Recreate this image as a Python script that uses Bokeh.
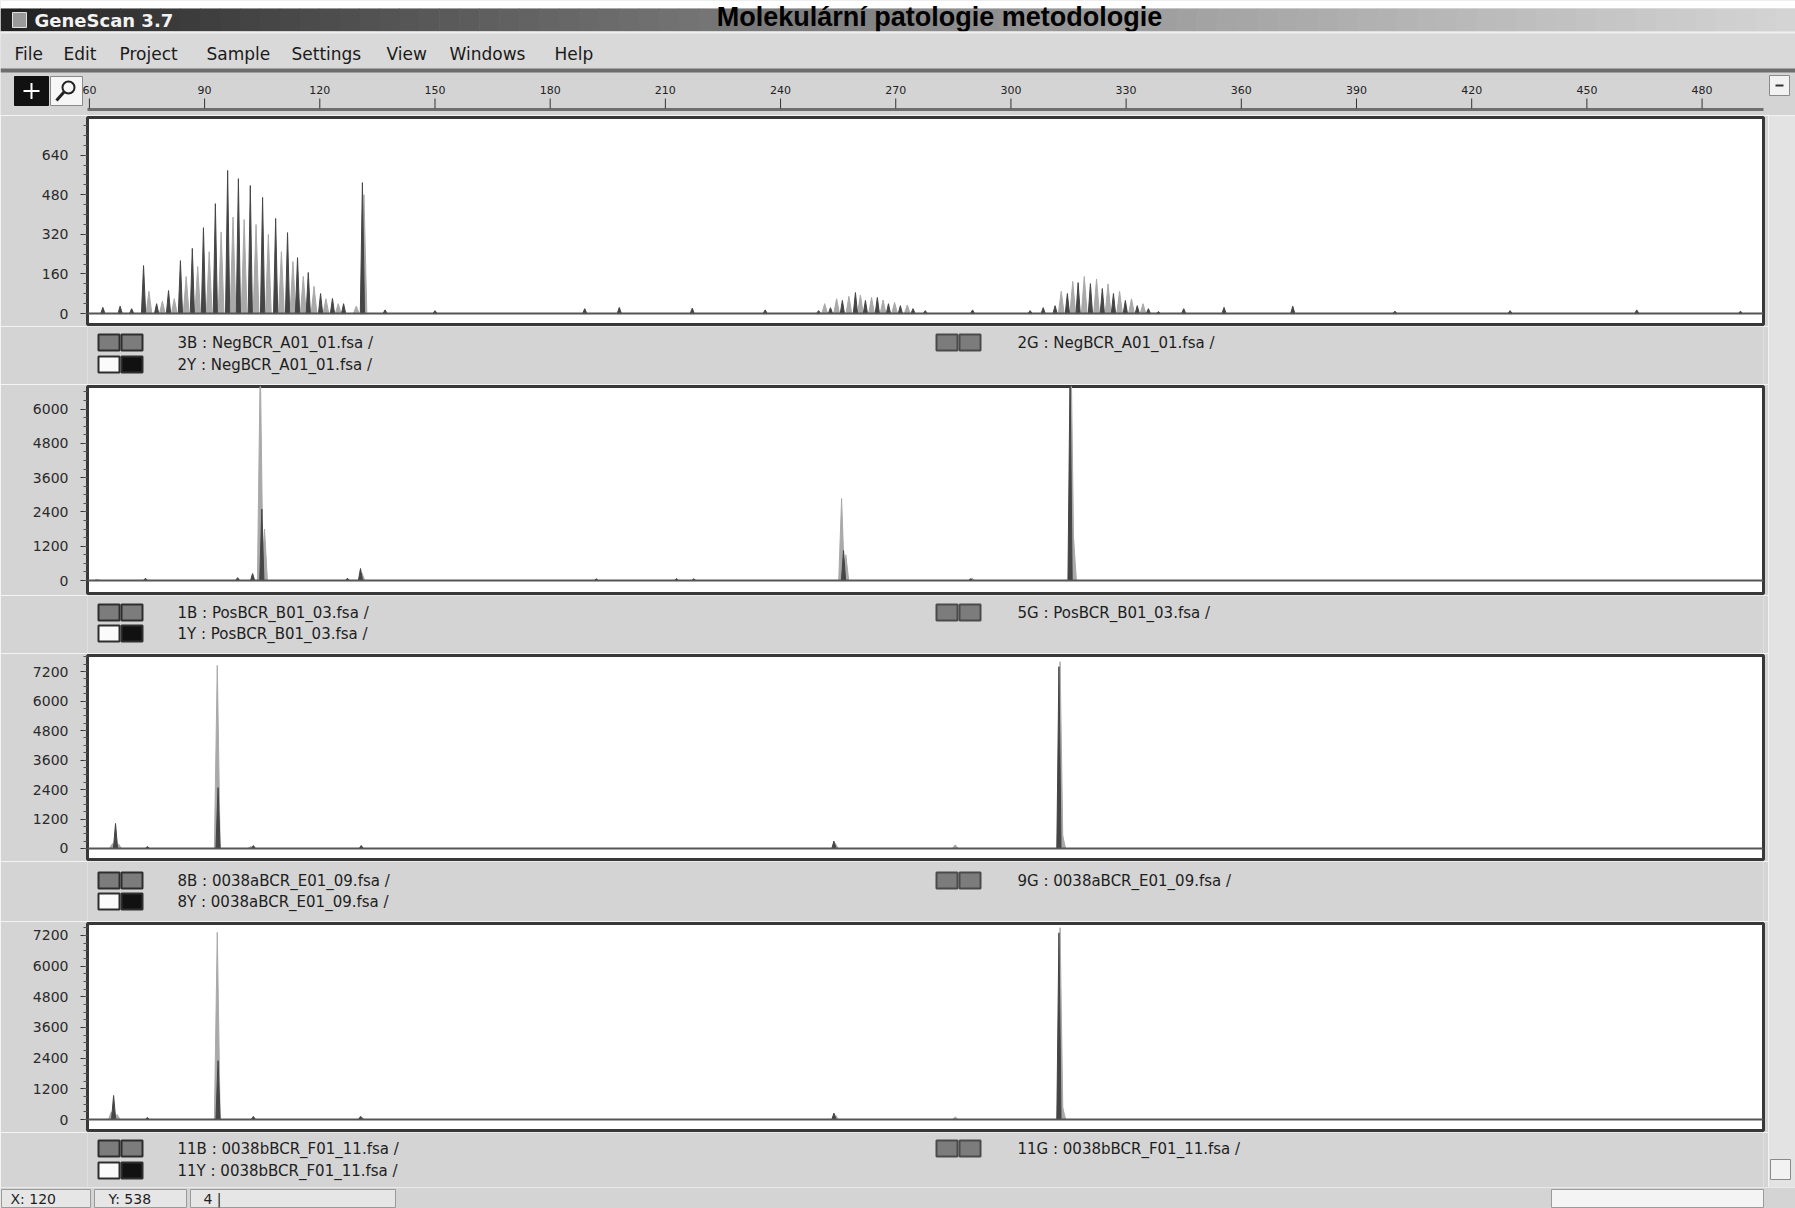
import numpy as np
from bokeh.plotting import figure
from bokeh.layouts import column, row
from bokeh.models import Range1d, FixedTicker, Span
from bokeh.embed import file_html
from bokeh.resources import INLINE
from bokeh.core.properties import value

# ---------------- texts ----------------
CHART_TITLE = "Molekulární patologie metodologie"
WINDOW_TITLE = "GeneScan 3.7"
MENU_ITEMS = ["File", "Edit", "Project", "Sample", "Settings", "View", "Windows", "Help"]
STATUS_TEXTS = ["X: 120", "Y: 538", "4 |"]

# ---------------- size axis (bp) ----------------
SIZE_TICKS = [60, 90, 120, 150, 180, 210, 240, 270, 300, 330, 360, 390, 420, 450, 480]
SIZE_RANGE = (59.5, 496.0)

# ---------------- panel 1 : NegBCR ----------------
P1_Y_TICKS = [0, 160, 320, 480, 640]
P1_DARK_BP = [63.5, 68.0, 71.0, 74.1, 77.5, 80.6, 83.7, 86.8, 89.7, 92.8, 96.0, 98.8, 101.9, 105.1,
              108.5, 111.6, 114.2, 117.0, 120.2, 123.3, 126.2, 131.1, 137.0, 150.0, 189.0, 198.0,
              217.0, 236.0, 249.9, 253.0, 256.1, 259.5, 262.1, 265.2, 268.1, 271.2, 274.5, 277.7,
              290.0, 305.0, 308.4, 311.5, 314.7, 317.5, 320.7, 323.8, 326.7, 329.8, 332.9, 335.8,
              338.4, 345.0, 355.5, 373.4, 400.0, 430.0, 463.0, 490.0]
P1_DARK_H = [25, 30, 20, 194, 40, 93, 214, 263, 347, 444, 578, 545, 517, 469,
             384, 327, 226, 166, 81, 61, 40, 529, 15, 12, 20, 25,
             22, 15, 12, 24, 53, 85, 53, 65, 40, 32, 20, 12,
             15, 12, 24, 32, 81, 125, 121, 101, 81, 53, 32, 20,
             8, 20, 25, 30, 10, 12, 15, 10]
P1_LIGHT_BP = [75.5, 79.0, 82.1, 85.2, 88.2, 91.2, 94.3, 97.4, 100.3, 103.4, 106.6, 110.0, 113.0,
               115.7, 118.5, 121.6, 124.8, 129.5, 131.5, 251.5, 254.6, 257.8, 260.8, 263.7, 266.7,
               269.7, 273.0, 313.1, 316.1, 319.1, 322.3, 325.3, 328.3, 331.4, 334.4]
P1_LIGHT_H = [90, 50, 60, 150, 190, 250, 330, 390, 380, 360, 320, 250, 210,
              150, 110, 60, 40, 30, 480, 40, 60, 70, 75, 65, 55,
              45, 35, 90, 130, 150, 140, 120, 90, 60, 40]
P1_LABELS = ["3B : NegBCR_A01_01.fsa /", "2Y : NegBCR_A01_01.fsa /", "2G : NegBCR_A01_01.fsa /"]

# ---------------- panel 2 : PosBCR ----------------
P2_Y_TICKS = [0, 1200, 2400, 3600, 4800, 6000]
P2_DARK_BP = [74.6, 98.6, 102.5, 104.9, 127.2, 130.6, 192.0, 212.9, 217.4, 256.4, 289.5, 315.4]
P2_DARK_H = [80, 100, 245, 2500, 80, 420, 60, 70, 60, 1050, 60, 7300]
P2_LIGHT_BP = [62.0, 104.5, 105.6, 131.0, 255.9, 257.0, 289.8, 315.7, 316.3]
P2_LIGHT_H = [40, 7600, 1800, 250, 2870, 900, 80, 7600, 1500]
P2_LABELS = ["1B : PosBCR_B01_03.fsa /", "1Y : PosBCR_B01_03.fsa /", "5G : PosBCR_B01_03.fsa /"]

# ---------------- panel 3 : 0038a ----------------
P3_Y_TICKS = [0, 1200, 2400, 3600, 4800, 6000, 7200]
P3_DARK_BP = [66.8, 75.1, 93.5, 102.7, 130.8, 253.9, 312.5]
P3_DARK_H = [1018, 80, 2480, 120, 120, 300, 7400]
P3_LIGHT_BP = [66.0, 67.6, 93.3, 102.0, 254.3, 285.5, 312.8, 313.5]
P3_LIGHT_H = [200, 180, 7450, 80, 200, 150, 7600, 500]
P3_LABELS = ["8B : 0038aBCR_E01_09.fsa /", "8Y : 0038aBCR_E01_09.fsa /", "9G : 0038aBCR_E01_09.fsa /"]

# ---------------- panel 4 : 0038b ----------------
P4_Y_TICKS = [0, 1200, 2400, 3600, 4800, 6000, 7200]
P4_DARK_BP = [66.3, 75.1, 93.5, 102.7, 130.6, 253.9, 312.5]
P4_DARK_H = [938, 80, 2300, 120, 120, 250, 7300]
P4_LIGHT_BP = [65.7, 67.2, 93.3, 130.9, 254.3, 285.5, 312.8, 313.5]
P4_LIGHT_H = [300, 200, 7320, 100, 180, 100, 7500, 450]
P4_LABELS = ["11B : 0038bBCR_F01_11.fsa /", "11Y : 0038bBCR_F01_11.fsa /", "11G : 0038bBCR_F01_11.fsa /"]

# ---------------- styling / geometry ----------------
GRAY = "#d4d4d4"
DARK = "#454545"
LIGHT = "#a9a9a9"
UI_FONT = "DejaVu Sans"
TOTAL_W = 1795
MAIN_W = 1768
FRAME_L = 87
FRAME_R = 1763
HEADER_H = 115


def bare(fig, bg=GRAY):
    fig.grid.visible = False
    fig.outline_line_color = None
    fig.background_fill_color = bg
    fig.border_fill_color = bg
    return fig


def px_fig(w, h, bg=GRAY):
    f = figure(width=w, height=h, x_range=Range1d(0, w), y_range=Range1d(h, 0),
               output_backend="svg", toolbar_location=None, min_border=0,
               x_axis_location=None, y_axis_location=None)
    return bare(f, bg)


# ---------------- header: title bar, menu, ruler ----------------
header = px_fig(TOTAL_W, HEADER_H)
bp_per_px = (SIZE_RANGE[1] - SIZE_RANGE[0]) / (FRAME_R - FRAME_L)
header.extra_x_ranges = {"bp": Range1d(SIZE_RANGE[0] - FRAME_L * bp_per_px,
                                       SIZE_RANGE[1] + (TOTAL_W - FRAME_R) * bp_per_px)}
header.quad(left=[0], right=[TOTAL_W], top=[0], bottom=[8], fill_color="white", line_color=None)
n = 90
edges = np.linspace(0, TOTAL_W, n + 1)
cols = []
for i in range(n):
    t = i / (n - 1)
    g = int(32 + (212 - 32) * t ** 0.8)
    cols.append("#%02x%02x%02x" % (g, g, g))
header.quad(left=edges[:-1], right=edges[1:] + 0.6, top=8, bottom=31, fill_color=cols, line_color=None)
header.quad(left=[12], right=[26], top=[12], bottom=[27], fill_color="#9a9a9a", line_color="#e0e0e0")
header.text(x=[34], y=[20], text=[WINDOW_TITLE], text_font=value(UI_FONT), text_font_style="bold",
            text_font_size="18px", text_baseline="middle", text_color="#f2f2f2")
header.text(x=[939], y=[1], text=[CHART_TITLE], text_font=value("Liberation Sans"),
            text_font_style="bold", text_font_size="27px", text_align="center",
            text_baseline="top", text_color="black")
header.quad(left=[0], right=[TOTAL_W], top=[31], bottom=[68], fill_color="#d9d9d9", line_color=None)
header.quad(left=[0], right=[TOTAL_W], top=[31], bottom=[33], fill_color="#efefef", line_color=None)
menu_x = [14, 63, 119, 206, 291, 386, 449, 554]
header.text(x=menu_x, y=[53] * len(MENU_ITEMS), text=MENU_ITEMS, text_font=value(UI_FONT),
            text_font_size="17px", text_baseline="middle", text_color="#1a1a1a")
header.quad(left=[0], right=[TOTAL_W], top=[68], bottom=[72], fill_color="#6d6d6d", line_color=None)
# tool icons
header.quad(left=[14], right=[48], top=[76], bottom=[105], fill_color="#111111", line_color="#111111")
header.segment(x0=[23, 31], y0=[90.5, 82.5], x1=[39, 31], y1=[90.5, 98.5], line_color="white", line_width=2)
header.quad(left=[50], right=[82], top=[76], bottom=[105], fill_color="#f6f6f6", line_color="#8a8a8a")
header.circle(x=[68], y=[87], radius=6, fill_color=None, line_color="#222222", line_width=2)
header.segment(x0=[63.5], y0=[91.5], x1=[56], y1=[100], line_color="#222222", line_width=3)
# size ruler
header.segment(x0=[SIZE_RANGE[0]], y0=[109], x1=[SIZE_RANGE[1]], y1=[109], x_range_name="bp",
               line_color="#6e6e6e", line_width=3)
header.segment(x0=SIZE_TICKS, y0=[98] * len(SIZE_TICKS), x1=SIZE_TICKS, y1=[108] * len(SIZE_TICKS),
               x_range_name="bp", line_color="#333333", line_width=1)
header.text(x=SIZE_TICKS, y=[89] * len(SIZE_TICKS), text=[str(t) for t in SIZE_TICKS],
            x_range_name="bp", text_font=value(UI_FONT), text_font_size="11px",
            text_align="center", text_baseline="middle", text_color="#222222")
# scrollbar cap at right
header.quad(left=[TOTAL_W - 26], right=[TOTAL_W - 6], top=[75], bottom=[95], fill_color="#f2f2f2",
            line_color="#8a8a8a")
header.segment(x0=[TOTAL_W - 20], y0=[85], x1=[TOTAL_W - 12], y1=[85], line_color="#333333", line_width=2)

xr = Range1d(*SIZE_RANGE)


# ---------------- panels ----------------
def make_panel(fig_h, y_lo, y_hi, yticks, minor_step, dark_bp, dark_h, light_bp, light_h):
    p = figure(width=MAIN_W, height=fig_h, x_range=xr, y_range=Range1d(y_lo, y_hi),
               output_backend="svg", toolbar_location=None, x_axis_location=None,
               min_border_left=FRAME_L, min_border_right=MAIN_W - FRAME_R,
               min_border_top=2, min_border_bottom=2)
    p.grid.visible = False
    p.background_fill_color = "white"
    p.border_fill_color = GRAY
    p.outline_line_color = "#383838"
    p.outline_line_width = 3
    ax = p.yaxis[0]
    minor = [float(v) for v in np.arange(0, y_hi, minor_step)]
    ax.ticker = FixedTicker(ticks=yticks, minor_ticks=minor)
    ax.major_tick_out = 7
    ax.major_tick_in = 0
    ax.minor_tick_out = 4
    ax.minor_tick_in = 0
    ax.axis_line_color = "#383838"
    ax.major_tick_line_color = "#333333"
    ax.minor_tick_line_color = "#555555"
    ax.major_label_text_font = UI_FONT
    ax.major_label_text_font_size = "14px"
    ax.major_label_text_color = "#2a2a2a"
    ax.major_label_standoff = 12
    p.add_layout(Span(location=0, dimension="width", line_color="#555555", line_width=2))
    lxs = [[b - 0.75, b, b + 0.75] for b in light_bp]
    lys = [[0, v, 0] for v in light_h]
    p.patches(lxs, lys, fill_color=LIGHT, line_color=LIGHT, line_width=1)
    dxs = [[b - 0.55, b, b + 0.55] for b in dark_bp]
    dys = [[0, v, 0] for v in dark_h]
    p.patches(dxs, dys, fill_color=DARK, line_color=DARK, line_width=1)
    return p


def make_strip(h, labels, y1, y2):
    s = figure(width=MAIN_W, height=h, x_range=Range1d(FRAME_L, FRAME_R), y_range=Range1d(h, 0),
               output_backend="svg", toolbar_location=None, x_axis_location=None,
               y_axis_location=None, min_border_left=FRAME_L, min_border_right=MAIN_W - FRAME_R,
               min_border_top=0, min_border_bottom=0)
    bare(s)
    s.quad(left=[98, 121], right=[119, 142], top=[y1 - 8] * 2, bottom=[y1 + 8] * 2,
           fill_color="#7c7c7c", line_color="#2e2e2e", line_width=2)
    s.quad(left=[98, 121], right=[119, 142], top=[y2 - 8] * 2, bottom=[y2 + 8] * 2,
           fill_color=["#fbfbfb", "#111111"], line_color="#2e2e2e", line_width=2)
    s.quad(left=[936, 959], right=[957, 980], top=[y1 - 8] * 2, bottom=[y1 + 8] * 2,
           fill_color="#7c7c7c", line_color="#4a4a4a", line_width=2)
    s.text(x=[177, 177, 1017], y=[y1, y2, y1], text=labels, text_font=value(UI_FONT),
           text_font_size="15px", text_baseline="middle", text_color="#1e1e1e")
    return s


p1 = make_panel(211, -44, 792, P1_Y_TICKS, 40, P1_DARK_BP, P1_DARK_H, P1_LIGHT_BP, P1_LIGHT_H)
s1 = make_strip(58, P1_LABELS, 16, 38)
p2 = make_panel(211, -455, 6790, P2_Y_TICKS, 300, P2_DARK_BP, P2_DARK_H, P2_LIGHT_BP, P2_LIGHT_H)
s2 = make_strip(58, P2_LABELS, 17, 38)
p3 = make_panel(208, -448, 7855, P3_Y_TICKS, 300, P3_DARK_BP, P3_DARK_H, P3_LIGHT_BP, P3_LIGHT_H)
s3 = make_strip(60, P3_LABELS, 19, 40)
p4 = make_panel(211, -430, 7664, P4_Y_TICKS, 300, P4_DARK_BP, P4_DARK_H, P4_LIGHT_BP, P4_LIGHT_H)
s4 = make_strip(55, P4_LABELS, 16, 38)

main_col = column(p1, s1, p2, s2, p3, s3, p4, s4, spacing=0)
main_h = 211 + 58 + 211 + 58 + 208 + 60 + 211 + 55

# ---------------- vertical scrollbar ----------------
sb = px_fig(TOTAL_W - MAIN_W, main_h, bg="#e3e3e3")
sb.quad(left=[2], right=[22], top=[main_h - 28], bottom=[main_h - 8], fill_color="#f2f2f2",
        line_color="#8a8a8a")

# ---------------- status bar ----------------
status = px_fig(TOTAL_W, 21)
status.quad(left=[1, 94, 190, 1551], right=[90, 186, 395, 1763], top=[2] * 4, bottom=[20] * 4,
            fill_color=["#e6e6e6", "#e6e6e6", "#e6e6e6", "#f4f4f4"], line_color="#9a9a9a")
status.text(x=[10, 108, 203], y=[11, 11, 11], text=STATUS_TEXTS, text_font=value(UI_FONT),
            text_font_size="14px", text_baseline="middle", text_color="#1e1e1e")

layout = column(header, row(main_col, sb, spacing=0), status, spacing=0)

open("out.html", "w").write(file_html(layout, INLINE, title="GeneScan 3.7"))
